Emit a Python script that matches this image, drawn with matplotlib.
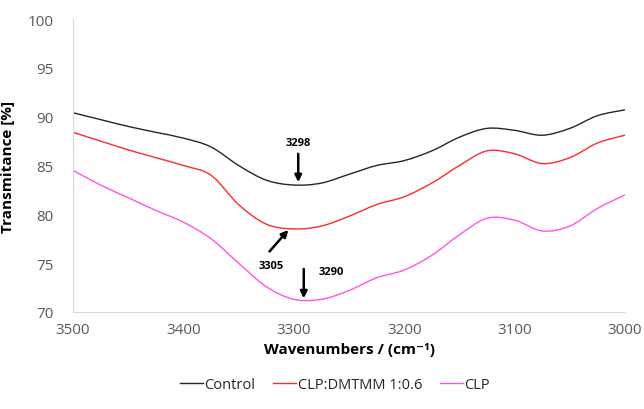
import matplotlib
matplotlib.use("Agg")
from matplotlib import pyplot as plt
from matplotlib.path import Path
from matplotlib.patches import PathPatch
from matplotlib.lines import Line2D

plt.rcParams['font.family'] = ['Open Sans', 'DejaVu Sans']

# wavenumbers (cm-1) and transmittance (%)
wavenumbers = [3500, 3475, 3450, 3425, 3400, 3375, 3350, 3325, 3300, 3275, 3250,
               3225, 3200, 3175, 3150, 3125, 3100, 3075, 3050, 3025, 3000]
control = [90.4, 89.7, 89.0, 88.4, 87.8, 86.9, 85.0, 83.5, 83.0, 83.2, 84.1,
           85.0, 85.5, 86.5, 87.9, 88.8, 88.6, 88.1, 88.8, 90.1, 90.7]
clp_dmtmm = [88.4, 87.5, 86.6, 85.8, 85.0, 84.0, 81.0, 79.0, 78.5, 78.8, 79.8,
             81.0, 81.8, 83.2, 85.0, 86.5, 86.2, 85.2, 85.8, 87.3, 88.1]
clp = [84.5, 83.0, 81.7, 80.4, 79.2, 77.5, 75.0, 72.6, 71.3, 71.3, 72.2,
       73.5, 74.3, 75.8, 77.9, 79.6, 79.4, 78.3, 78.8, 80.6, 82.0]

series_names = ['Control', 'CLP:DMTMM 1:0.6', 'CLP']
series_colors = ['#262626', '#ff2a2a', '#ff55e6']

# peak labels: (text, text x, text y, arrow tail, arrow head)
peaks = [
    ('3298', 3296, 87.4, (3296, 86.2), (3296, 83.3)),
    ('3305', 3320, 74.8, (3322, 76.2), (3305, 78.4)),
    ('3290', 3266, 74.1, (3291, 74.4), (3291, 71.4)),
]


def smooth_path(xs, ys):
    # Excel-style smoothed line: cubic bezier through the read points
    verts = [(xs[0], ys[0])]
    codes = [Path.MOVETO]
    n = len(xs)
    for i in range(n - 1):
        x0, y0 = xs[max(i - 1, 0)], ys[max(i - 1, 0)]
        x1, y1 = xs[i], ys[i]
        x2, y2 = xs[i + 1], ys[i + 1]
        x3, y3 = xs[min(i + 2, n - 1)], ys[min(i + 2, n - 1)]
        verts += [(x1 + (x2 - x0) / 6, y1 + (y2 - y0) / 6),
                  (x2 - (x3 - x1) / 6, y2 - (y3 - y1) / 6),
                  (x2, y2)]
        codes += [Path.CURVE4] * 3
    return Path(verts, codes)


fig = plt.figure(figsize=(6.44, 4.10), dpi=100)
ax = fig.add_axes([0.1134, 0.2366, 0.8571, 0.7146])

handles = []
for vals, name, col in zip([control, clp_dmtmm, clp], series_names, series_colors):
    ax.add_patch(PathPatch(smooth_path(wavenumbers, vals), facecolor='none',
                           edgecolor=col, lw=1.0))
    handles.append(Line2D([], [], color=col, lw=1.0, label=name))

for txt, tx, ty, tail, head in peaks:
    ax.annotate('', xy=head, xytext=tail,
                arrowprops=dict(arrowstyle='-|>', color='black', lw=1.8,
                                mutation_scale=10, shrinkA=0, shrinkB=0))
    ax.text(tx, ty, txt, ha='center', va='center', fontsize=8,
            fontweight='bold', color='black')

ax.set_xlim(3500, 3000)
ax.set_ylim(70, 100)
ax.set_xticks([3500, 3400, 3300, 3200, 3100, 3000])
ax.set_yticks([70, 75, 80, 85, 90, 95, 100])
ax.tick_params(length=0, labelsize=11, labelcolor='#595959', pad=7)
ax.tick_params(axis='y', pad=14)
for s in ['top', 'right']:
    ax.spines[s].set_visible(False)
for s in ['left', 'bottom']:
    ax.spines[s].set_color('#d9d9d9')

ax.set_xlabel('Wavenumbers / (cm⁻¹)', fontsize=11, fontweight='bold', labelpad=4)
ax.set_ylabel('Transmitance [%]', fontsize=11, fontweight='bold', labelpad=9)

fig.legend(handles=handles, loc='lower center', bbox_to_anchor=(0.52, 0.01), ncol=3,
           frameon=False, fontsize=10.5, handlelength=1.6, handletextpad=0.1,
           columnspacing=1.2, labelcolor='#262626')

fig.savefig('out.png', dpi=100)
